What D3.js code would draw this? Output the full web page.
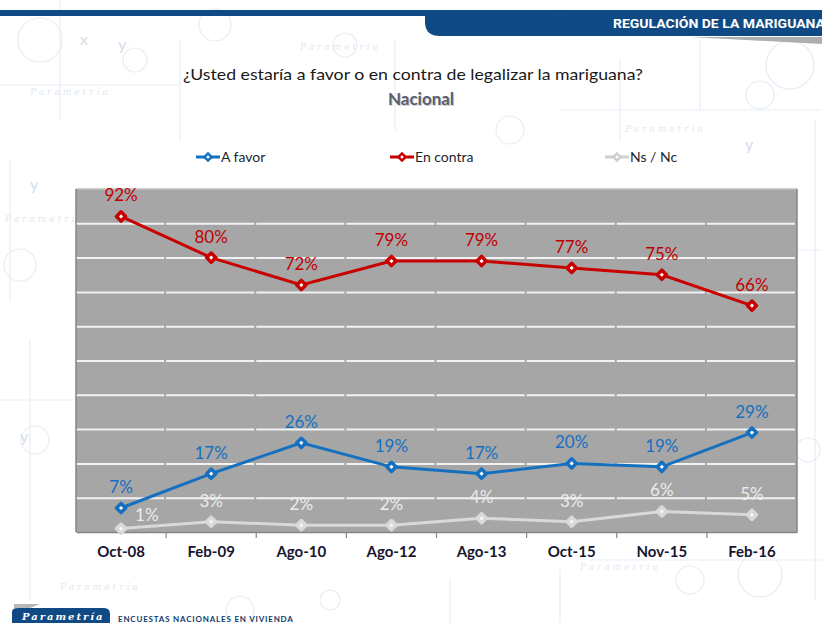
<!DOCTYPE html>
<html>
<head>
<meta charset="utf-8">
<script src="https://cdn.jsdelivr.net/npm/d3@7"></script>
<style>
  body { margin: 0; background: #fff; }
  svg { display: block; font-family: Lato, "Open Sans", sans-serif; }
</style>
</head>
<body>
<svg id="chart" width="822" height="623"></svg>
<script>
// survey rounds (x axis)
var categories = ["Oct-08", "Feb-09", "Ago-10", "Ago-12", "Ago-13", "Oct-15", "Nov-15", "Feb-16"];

// percentages for each answer
var aFavor   = [7, 17, 26, 19, 17, 20, 19, 29];
var enContra = [92, 80, 72, 79, 79, 77, 75, 66];
var nsNc     = [1, 3, 2, 2, 4, 3, 6, 5];

var seriesNames = ["A favor", "En contra", "Ns / Nc"];
var yTicks = [0, 10, 20, 30, 40, 50, 60, 70, 80, 90, 100];

var svg = d3.select("#chart");
var W = 822, H = 623;

/* faint watermark drawings in the background */
var wm = svg.append("g").attr("stroke", "#e7edf5").attr("fill", "none").attr("stroke-width", 1.2);
var circles = [[40, 40, 22], [135, 60, 12], [215, 25, 16], [345, 45, 12], [510, 130, 14], [560, 20, 10],
               [760, 95, 14], [790, 65, 24], [20, 265, 16], [35, 440, 14], [808, 450, 12], [625, 505, 12],
               [690, 580, 14], [760, 575, 22], [330, 600, 10], [240, 610, 14]];
circles.forEach(function(c) {
  wm.append("circle").attr("cx", c[0]).attr("cy", c[1]).attr("r", c[2]);
});
[[60, 0, 60, 120], [180, 40, 180, 140], [395, 40, 395, 130], [700, 40, 700, 110], [815, 120, 815, 600],
 [10, 160, 10, 300], [30, 340, 30, 600], [450, 580, 450, 623], [560, 570, 560, 623], [620, 60, 620, 140]]
  .forEach(function(l) {
    wm.append("line").attr("x1", l[0]).attr("y1", l[1]).attr("x2", l[2]).attr("y2", l[3]);
  });
[[0, 85, 180, 85], [560, 110, 822, 110], [0, 400, 80, 400], [760, 250, 822, 250], [590, 560, 822, 560]]
  .forEach(function(l) {
    wm.append("line").attr("x1", l[0]).attr("y1", l[1]).attr("x2", l[2]).attr("y2", l[3]);
  });
var wmText = svg.append("g").attr("fill", "#e1e8f1").attr("font-style", "italic")
  .attr("font-size", 9).attr("letter-spacing", 3).attr("font-family", "DejaVu Serif");
[[30, 95], [300, 50], [625, 132], [5, 222], [60, 590], [580, 570]]
  .forEach(function(p) { wmText.append("text").attr("x", p[0]).attr("y", p[1]).text("Parametría"); });
var wmXY = svg.append("g").attr("fill", "#d3ddea").attr("font-size", 16);
[[30, 190, "y"], [20, 442, "y"], [80, 45, "x"], [118, 50, "y"], [745, 150, "y"]]
  .forEach(function(p) { wmXY.append("text").attr("x", p[0]).attr("y", p[1]).text(p[2]); });

/* header band */
svg.append("rect").attr("x", 0).attr("y", 10).attr("width", W).attr("height", 6).attr("fill", "#0f4a85");
svg.append("path")
  .attr("d", "M425,10 L822,10 L822,36 L440,36 Q425,36 425,22 Z")
  .attr("fill", "#0f4a85");
svg.append("path")
  .attr("d", "M690,37 L822,37 L822,44 Z")
  .attr("fill", "#9a9a9a").attr("opacity", 0.8);
svg.append("text")
  .attr("x", 613).attr("y", 28)
  .attr("fill", "#ffffff")
  .attr("font-size", 13).attr("font-weight", "bold")
  .attr("font-family", "Liberation Sans Narrow, Roboto, sans-serif")
  .attr("textLength", 212).attr("lengthAdjust", "spacingAndGlyphs")
  .text("REGULACIÓN  DE LA MARIGUANA");

/* titles */
svg.append("text")
  .attr("x", 413).attr("y", 80)
  .attr("text-anchor", "middle")
  .attr("font-size", 15).attr("fill", "#1a1a1a")
  .attr("textLength", 460).attr("lengthAdjust", "spacingAndGlyphs")
  .text("¿Usted estaría a favor o en contra de legalizar la mariguana?");
svg.append("text")
  .attr("x", 422).attr("y", 106)
  .attr("text-anchor", "middle")
  .attr("font-size", 17).attr("font-weight", "bold").attr("fill", "#c8cbd2")
  .text("Nacional");
svg.append("text")
  .attr("x", 421).attr("y", 105)
  .attr("text-anchor", "middle")
  .attr("font-size", 17).attr("font-weight", "bold").attr("fill", "#5a5f6b")
  .text("Nacional");

/* chart area */
var margin = {left: 76, top: 189, right: 25, bottom: 91};
var plotW = W - margin.left - margin.right;   // 721
var plotH = H - margin.top - margin.bottom;   // 343

var x = d3.scaleBand().domain(categories).range([0, plotW]);
var y = d3.scaleLinear().domain([0, 100]).range([plotH, 0]);

var g = svg.append("g").attr("transform", "translate(" + margin.left + "," + margin.top + ")");

g.append("rect")
  .attr("width", plotW).attr("height", plotH)
  .attr("fill", "#a6a6a6");

// gridlines, broken at each category boundary like the original
var bw = x.bandwidth();
g.append("g")
  .attr("class", "grid")
  .call(d3.axisLeft(y).tickValues(yTicks.slice(1, 10)).tickSize(-plotW).tickFormat(""))
  .call(function(s) { s.select(".domain").remove(); })
  .selectAll("line")
  .attr("stroke", "#f2f2f2")
  .attr("stroke-width", 2)
  .attr("stroke-dasharray", (bw - 2) + " 2");

// frame
g.append("line").attr("x1", 0).attr("y1", 0).attr("x2", plotW).attr("y2", 0)
  .attr("stroke", "#bfbfbf").attr("stroke-width", 1.5);
g.append("line").attr("x1", 0).attr("y1", 0).attr("x2", 0).attr("y2", plotH)
  .attr("stroke", "#868686").attr("stroke-width", 1.5);
g.append("line").attr("x1", plotW).attr("y1", 0).attr("x2", plotW).attr("y2", plotH)
  .attr("stroke", "#868686").attr("stroke-width", 1.5);

// x axis
var xAxis = g.append("g")
  .attr("transform", "translate(0," + plotH + ")")
  .call(d3.axisBottom(x).tickSize(0).tickPadding(14));
xAxis.select(".domain").attr("stroke", "#868686").attr("stroke-width", 1.5);
xAxis.selectAll("text")
  .attr("font-size", 15).attr("font-weight", "bold")
  .attr("fill", "#161630")
  .attr("font-family", "Lato, sans-serif");
// tick marks at category boundaries
g.append("g").selectAll("line")
  .data(categories.slice(1))
  .enter().append("line")
  .attr("x1", function(d) { return x(d); })
  .attr("x2", function(d) { return x(d); })
  .attr("y1", plotH).attr("y2", plotH + 6)
  .attr("stroke", "#868686").attr("stroke-width", 1.2);

var series = [
  {name: seriesNames[1], values: enContra, color: "#c80000", label: "#c00000", mfill: "#ffffff"},
  {name: seriesNames[0], values: aFavor, color: "#1570c0", label: "#1570c0", mfill: "#ffffff"},
  {name: seriesNames[2], values: nsNc, color: "#d9d9d9", label: "#ececec", mfill: "#f7f7f7"}
];

var line = d3.line()
  .x(function(d, i) { return x(categories[i]) + bw / 2; })
  .y(function(d) { return y(d); });

// square turned 45 degrees gives an even diamond
var marker = d3.symbol().type(d3.symbolSquare).size(42);

// draw gray series first so it sits under the others
[series[2], series[1], series[0]].forEach(function(s) {
  var sg = g.append("g");
  sg.append("path")
    .datum(s.values)
    .attr("d", line)
    .attr("fill", "none")
    .attr("stroke", s.color)
    .attr("stroke-width", 3);
  sg.selectAll("path.mk")
    .data(s.values)
    .enter().append("path")
    .attr("class", "mk")
    .attr("d", marker)
    .attr("transform", function(d, i) {
      return "translate(" + (x(categories[i]) + bw / 2) + "," + y(d) + ") rotate(45)";
    })
    .attr("fill", s.mfill)
    .attr("stroke", s.color)
    .attr("stroke-width", 3.5)
    .attr("stroke-linejoin", "round");
  sg.selectAll("text")
    .data(s.values)
    .enter().append("text")
    .attr("x", function(d, i) {
      var cx = x(categories[i]) + bw / 2;
      return (s.name === "Ns / Nc" && i === 0) ? cx + 14 : cx;
    })
    .attr("y", function(d, i) {
      return (s.name === "Ns / Nc" && i === 0) ? y(d) - 8 : y(d) - 15;
    })
    .attr("text-anchor", function(d, i) {
      return (s.name === "Ns / Nc" && i === 0) ? "start" : "middle";
    })
    .attr("font-size", 17)
    .attr("fill", s.label)
    .text(function(d) { return d + "%"; });
});

/* legend */
var legendItems = [
  {name: seriesNames[0], color: "#1570c0", x: 196},
  {name: seriesNames[1], color: "#c80000", x: 390},
  {name: seriesNames[2], color: "#cfcfcf", x: 605}
];
var lg = svg.append("g");
legendItems.forEach(function(it) {
  var ly = 157;
  lg.append("line").attr("x1", it.x).attr("x2", it.x + 24).attr("y1", ly).attr("y2", ly)
    .attr("stroke", it.color).attr("stroke-width", 3);
  lg.append("path").attr("d", d3.symbol().type(d3.symbolSquare).size(26))
    .attr("transform", "translate(" + (it.x + 12) + "," + ly + ") rotate(45)")
    .attr("fill", "#fff").attr("stroke", it.color).attr("stroke-width", 2.5);
  lg.append("text").attr("x", it.x + 25).attr("y", ly + 5)
    .attr("font-size", 14).attr("fill", "#1f1f2f")
    .text(it.name);
});

/* footer */
svg.append("path").attr("d", "M14,604 L40,604 L30,608 L14,608 Z").attr("fill", "#9a9a9a").attr("opacity", 0.7);
svg.append("path")
  .attr("d", "M12,623 L12,612 Q12,608 18,608 L104,608 Q110,608 110,614 L110,623 Z")
  .attr("fill", "#0f4a85");
svg.append("text").attr("x", 22).attr("y", 620)
  .attr("fill", "#ffffff").attr("font-size", 10).attr("font-style", "italic").attr("font-weight", "bold")
  .attr("letter-spacing", 2).attr("font-family", "DejaVu Serif")
  .text("Parametría");
svg.append("text").attr("x", 118).attr("y", 622)
  .attr("fill", "#0f3a6a").attr("font-size", 8).attr("font-weight", "bold")
  .attr("letter-spacing", 0.8)
  .text("ENCUESTAS  NACIONALES  EN  VIVIENDA");
</script>
</body>
</html>
